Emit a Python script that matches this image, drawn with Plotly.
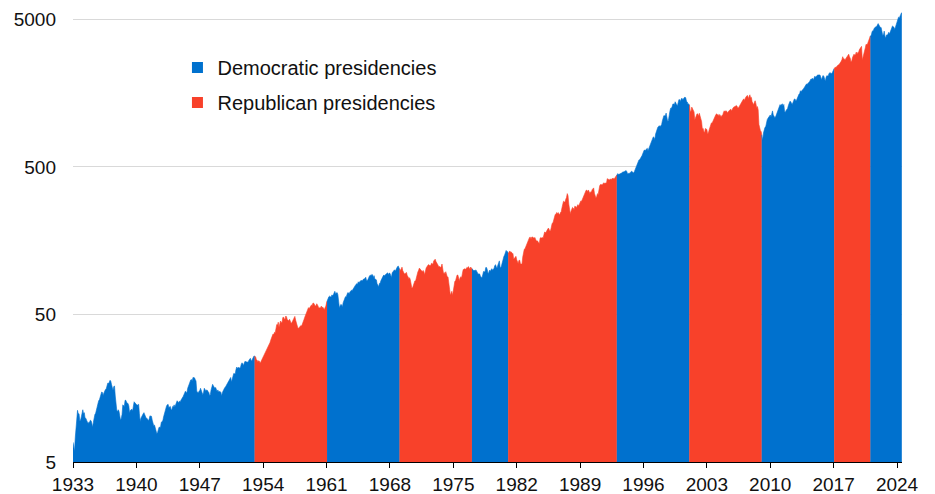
import numpy as np
import plotly.graph_objects as go

# Monthly S&P 500 level (approx. monthly average), Jan 1933 .. Jul 2024
start_year = 1933
sp500 = [
    # 1933
    6.8, 6.3, 5.9, 7.3, 9.0, 10.5, 11.2, 10.6, 10.6, 9.5, 9.6, 10.1,
    # 1934
    10.6, 11.3, 10.6, 10.8, 9.9, 9.9, 9.6, 9.1, 9.1, 9.3, 9.3, 9.6,
    # 1935
    9.5, 9.1, 8.6, 9.3, 10.0, 10.5, 10.7, 11.3, 11.6, 12.0, 13.0, 13.2,
    # 1936
    13.8, 14.5, 14.9, 14.8, 14.1, 14.7, 15.3, 15.5, 15.6, 16.4, 17.1, 17.1,
    # 1937
    17.3, 17.9, 17.7, 16.8, 16.1, 15.3, 16.2, 16.4, 14.0, 12.3, 11.2, 11.0,
    # 1938
    11.3, 11.0, 9.9, 9.6, 9.9, 10.5, 12.2, 12.0, 11.9, 13.1, 13.1, 12.7,
    # 1939
    12.6, 12.4, 12.0, 10.7, 11.2, 11.3, 11.4, 11.1, 12.4, 12.8, 12.6, 12.4,
    # 1940
    12.3, 12.1, 12.2, 12.3, 10.6, 9.4, 9.9, 10.2, 10.6, 10.6, 10.8, 10.4,
    # 1941
    10.4, 9.9, 9.9, 9.6, 9.5, 9.8, 10.3, 10.2, 10.2, 9.6, 9.2, 8.8,
    # 1942
    8.9, 8.6, 8.2, 7.8, 7.9, 8.3, 8.6, 8.6, 8.6, 9.3, 9.5, 9.5,
    # 1943
    10.1, 10.7, 11.3, 11.5, 12.0, 12.2, 12.3, 11.7, 11.9, 11.9, 11.3, 11.3,
    # 1944
    11.9, 11.8, 12.2, 11.8, 12.2, 12.6, 13.0, 12.8, 12.6, 12.9, 12.8, 13.1,
    # 1945
    13.5, 13.9, 13.9, 14.3, 14.8, 15.1, 14.8, 14.8, 15.8, 16.5, 17.0, 17.3,
    # 1946
    18.0, 18.1, 17.7, 18.7, 18.7, 18.6, 18.1, 17.7, 15.1, 14.8, 14.7, 15.1,
    # 1947
    15.2, 15.8, 15.2, 14.6, 14.3, 14.8, 15.8, 15.5, 15.1, 15.4, 15.3, 15.0,
    # 1948
    14.8, 14.1, 14.3, 15.4, 16.2, 16.8, 16.4, 15.8, 15.8, 16.0, 15.2, 15.0,
    # 1949
    15.4, 14.9, 15.0, 15.0, 14.8, 14.0, 14.8, 15.3, 15.5, 15.9, 16.1, 16.5,
    # 1950
    16.9, 17.2, 17.3, 17.9, 18.4, 18.7, 17.4, 18.4, 19.1, 19.9, 19.8, 19.8,
    # 1951
    21.2, 22.0, 21.6, 21.9, 21.9, 21.6, 21.9, 23.0, 23.5, 23.2, 22.5, 23.4,
    # 1952
    24.1, 23.9, 23.8, 23.7, 23.7, 24.4, 25.1, 25.2, 24.5, 24.2, 25.0, 26.0,
    # 1953
    26.2, 25.9, 25.8, 24.7, 24.5, 23.9, 24.3, 24.1, 23.3, 23.9, 24.5, 24.7,
    # 1954
    25.5, 26.0, 26.6, 27.6, 28.7, 28.9, 30.1, 30.3, 31.5, 32.2, 33.4, 35.0,
    # 1955
    35.6, 36.8, 36.5, 37.8, 37.6, 39.8, 42.7, 42.4, 44.3, 41.0, 44.0, 45.1,
    # 1956
    44.2, 44.0, 47.5, 48.1, 46.5, 46.3, 48.8, 48.1, 46.0, 45.4, 45.3, 46.4,
    # 1957
    45.4, 43.5, 44.0, 45.1, 46.8, 47.5, 48.5, 45.8, 43.9, 41.2, 40.4, 40.3,
    # 1958
    41.1, 41.3, 42.1, 41.7, 43.7, 44.8, 46.0, 47.7, 49.0, 51.0, 52.5, 53.5,
    # 1959
    55.6, 54.8, 56.2, 57.1, 58.0, 57.5, 59.7, 59.6, 57.0, 57.0, 57.2, 59.1,
    # 1960
    58.0, 55.8, 55.0, 55.7, 55.2, 57.0, 55.5, 56.1, 54.4, 53.7, 55.5, 56.8,
    # 1961
    59.7, 62.2, 64.1, 65.8, 66.5, 65.6, 65.4, 67.8, 67.3, 68.0, 71.1, 71.7,
    # 1962
    69.1, 70.2, 70.3, 68.1, 63.0, 55.6, 57.0, 58.5, 58.0, 56.2, 60.0, 62.6,
    # 1963
    65.1, 65.9, 65.7, 68.8, 70.1, 70.1, 69.1, 71.0, 72.9, 73.0, 72.6, 74.2,
    # 1964
    76.5, 77.4, 78.8, 79.9, 80.7, 80.2, 83.2, 82.0, 83.4, 84.9, 85.4, 84.0,
    # 1965
    86.1, 86.8, 86.8, 88.0, 89.3, 85.0, 84.9, 86.5, 89.4, 91.4, 92.2, 91.7,
    # 1966
    93.3, 92.7, 88.9, 91.6, 86.8, 86.1, 85.8, 80.7, 77.8, 77.1, 81.0, 81.3,
    # 1967
    84.5, 87.4, 89.4, 91.0, 92.6, 91.0, 93.0, 94.5, 95.8, 95.7, 92.7, 95.3,
    # 1968
    95.0, 90.8, 89.1, 95.7, 97.9, 100.5, 100.3, 98.1, 101.3, 103.8, 105.4, 106.5,
    # 1969
    102.0, 101.5, 99.3, 101.3, 104.6, 99.1, 94.7, 94.2, 94.5, 95.5, 96.2, 91.1,
    # 1970
    90.3, 87.2, 88.7, 86.0, 76.1, 75.6, 75.7, 77.9, 82.6, 84.4, 84.3, 90.1,
    # 1971
    93.5, 97.1, 99.6, 103.0, 101.6, 99.7, 99.0, 97.2, 99.4, 97.3, 92.8, 99.2,
    # 1972
    103.3, 105.2, 107.7, 108.8, 107.7, 108.0, 107.2, 111.0, 109.4, 109.6, 115.1, 117.5,
    # 1973
    118.4, 114.2, 112.4, 110.3, 107.2, 104.8, 105.8, 103.8, 105.6, 109.8, 102.0, 94.8,
    # 1974
    96.1, 93.5, 97.4, 92.5, 89.7, 89.8, 82.8, 76.0, 68.1, 69.4, 71.7, 67.1,
    # 1975
    72.6, 80.1, 83.8, 84.7, 90.1, 92.4, 92.5, 85.7, 84.7, 88.6, 90.1, 88.7,
    # 1976
    96.9, 100.6, 101.1, 101.9, 101.2, 101.8, 104.2, 103.3, 105.5, 101.9, 101.2, 104.7,
    # 1977
    103.8, 101.0, 100.6, 99.1, 98.8, 99.3, 100.2, 97.8, 96.2, 93.7, 94.3, 93.8,
    # 1978
    90.3, 89.0, 88.8, 92.7, 97.7, 97.2, 97.2, 103.9, 103.9, 100.6, 94.7, 96.1,
    # 1979
    99.7, 98.2, 100.1, 102.1, 99.7, 101.7, 102.7, 107.4, 108.6, 104.5, 103.7, 107.8,
    # 1980
    110.9, 115.3, 104.7, 103.0, 107.7, 114.6, 119.8, 123.5, 126.5, 130.2, 135.7, 133.5,
    # 1981
    133.0, 128.4, 133.2, 134.4, 131.7, 132.3, 129.1, 129.6, 118.3, 119.8, 122.9, 123.8,
    # 1982
    117.3, 114.5, 110.8, 116.3, 116.4, 109.7, 109.4, 109.7, 122.4, 132.7, 138.1, 139.4,
    # 1983
    144.3, 146.8, 151.9, 157.7, 164.1, 166.4, 167.0, 162.4, 167.2, 167.7, 165.2, 164.4,
    # 1984
    166.4, 157.3, 157.4, 157.6, 156.6, 153.1, 151.1, 164.4, 166.1, 164.8, 166.3, 164.5,
    # 1985
    171.6, 180.9, 179.4, 180.6, 184.9, 188.9, 192.5, 188.3, 184.1, 186.2, 197.5, 207.3,
    # 1986
    208.2, 219.4, 232.3, 238.0, 238.5, 245.3, 240.2, 245.0, 238.3, 237.4, 245.1, 248.6,
    # 1987
    264.5, 280.9, 292.5, 289.3, 289.1, 301.4, 310.1, 329.4, 318.7, 280.2, 245.0, 241.0,
    # 1988
    250.5, 258.1, 265.7, 262.6, 256.1, 270.7, 269.1, 263.7, 268.0, 277.4, 271.0, 276.5,
    # 1989
    285.4, 294.0, 292.7, 302.3, 313.9, 323.7, 331.9, 346.6, 347.3, 347.4, 340.2, 348.6,
    # 1990
    340.0, 330.5, 338.5, 338.2, 350.3, 360.4, 360.0, 330.8, 315.4, 307.1, 315.3, 328.8,
    # 1991
    325.5, 362.3, 372.3, 379.7, 378.0, 378.3, 380.2, 389.4, 387.2, 386.9, 385.9, 388.5,
    # 1992
    416.1, 412.6, 407.4, 407.4, 414.8, 408.3, 415.1, 417.9, 418.5, 412.5, 422.8, 435.6,
    # 1993
    435.2, 441.7, 450.2, 443.1, 445.3, 448.1, 447.3, 454.1, 459.2, 463.9, 462.9, 466.0,
    # 1994
    473.0, 471.6, 463.8, 447.2, 450.9, 454.8, 451.4, 464.2, 467.0, 463.8, 461.0, 455.2,
    # 1995
    465.3, 481.9, 493.2, 507.9, 523.8, 539.4, 557.4, 559.1, 578.8, 582.9, 595.5, 614.6,
    # 1996
    614.4, 649.5, 647.1, 647.2, 661.2, 668.5, 644.1, 662.7, 674.9, 701.5, 735.7, 743.3,
    # 1997
    766.2, 798.4, 792.2, 763.9, 833.1, 876.3, 925.3, 927.7, 937.0, 951.2, 938.9, 962.4,
    # 1998
    963.4, 1023.7, 1076.8, 1112.2, 1108.4, 1108.4, 1156.6, 1074.6, 1020.6, 1032.5, 1144.4, 1190.1,
    # 1999
    1248.8, 1246.6, 1281.7, 1334.8, 1332.1, 1322.6, 1381.0, 1327.5, 1318.2, 1300.0, 1391.0, 1428.7,
    # 2000
    1425.6, 1388.9, 1442.2, 1461.4, 1418.5, 1462.0, 1473.0, 1485.5, 1468.1, 1390.1, 1378.0, 1330.9,
    # 2001
    1335.6, 1305.8, 1185.9, 1189.8, 1270.4, 1238.7, 1204.5, 1178.5, 1044.6, 1076.6, 1129.7, 1144.9,
    # 2002
    1140.2, 1100.7, 1153.8, 1112.0, 1079.3, 1014.0, 903.6, 912.6, 867.8, 854.6, 909.9, 899.2,
    # 2003
    895.8, 837.6, 846.6, 890.0, 936.0, 988.0, 992.5, 989.5, 1019.4, 1038.7, 1049.9, 1080.6,
    # 2004
    1132.5, 1143.4, 1124.0, 1133.1, 1102.8, 1132.8, 1105.9, 1088.9, 1117.7, 1118.1, 1168.9, 1199.2,
    # 2005
    1181.4, 1199.6, 1194.9, 1164.4, 1178.3, 1202.3, 1222.2, 1224.3, 1225.9, 1192.0, 1237.4, 1262.1,
    # 2006
    1278.7, 1276.7, 1293.7, 1302.2, 1290.0, 1253.1, 1260.2, 1287.2, 1317.7, 1363.4, 1388.6, 1416.4,
    # 2007
    1424.2, 1444.8, 1407.0, 1463.7, 1511.1, 1514.5, 1520.7, 1454.6, 1497.1, 1539.7, 1463.4, 1479.2,
    # 2008
    1378.8, 1354.9, 1316.9, 1370.5, 1403.2, 1341.3, 1257.3, 1281.5, 1217.0, 968.8, 883.0, 877.6,
    # 2009
    865.6, 805.2, 757.1, 848.2, 902.4, 926.1, 935.8, 1009.7, 1044.6, 1067.7, 1088.1, 1110.4,
    # 2010
    1123.6, 1089.2, 1152.0, 1197.3, 1125.1, 1083.4, 1079.8, 1087.3, 1122.1, 1171.6, 1198.9, 1241.5,
    # 2011
    1282.6, 1321.1, 1304.5, 1331.5, 1338.3, 1287.3, 1325.2, 1185.3, 1173.9, 1207.2, 1226.4, 1243.3,
    # 2012
    1300.6, 1352.5, 1389.2, 1386.4, 1341.3, 1323.5, 1359.8, 1403.4, 1443.4, 1437.8, 1394.5, 1422.3,
    # 2013
    1480.4, 1512.3, 1550.8, 1570.7, 1639.8, 1618.8, 1668.7, 1670.1, 1687.2, 1720.0, 1783.5, 1807.8,
    # 2014
    1822.4, 1817.0, 1863.5, 1864.3, 1889.8, 1947.1, 1973.1, 1961.5, 1993.2, 1937.3, 2044.6, 2054.3,
    # 2015
    2028.2, 2082.2, 2080.0, 2094.9, 2111.9, 2099.3, 2094.1, 2039.9, 1944.4, 2024.8, 2080.6, 2054.1,
    # 2016
    1918.6, 1904.4, 2022.0, 2075.5, 2065.6, 2083.9, 2149.0, 2177.5, 2157.7, 2143.0, 2165.0, 2246.6,
    # 2017
    2275.1, 2329.9, 2366.8, 2359.3, 2395.3, 2434.0, 2454.1, 2456.2, 2492.8, 2557.0, 2593.6, 2664.3,
    # 2018
    2789.8, 2705.2, 2702.8, 2653.6, 2701.5, 2754.4, 2793.6, 2857.8, 2901.5, 2785.5, 2723.2, 2567.3,
    # 2019
    2607.4, 2754.9, 2804.0, 2903.8, 2854.7, 2890.2, 2996.1, 2897.5, 2982.2, 2977.7, 3104.9, 3176.7,
    # 2020
    3278.2, 3277.3, 2652.4, 2762.0, 2919.6, 3104.7, 3207.6, 3391.7, 3365.5, 3418.7, 3549.0, 3695.3,
    # 2021
    3793.7, 3883.4, 3910.5, 4141.2, 4167.9, 4238.5, 4363.7, 4454.2, 4445.5, 4460.7, 4667.4, 4674.8,
    # 2022
    4573.8, 4436.0, 4391.3, 4391.3, 4040.4, 3899.0, 3911.7, 4158.6, 3850.5, 3726.1, 3917.5, 3912.4,
    # 2023
    3960.7, 4079.7, 3968.6, 4121.5, 4146.2, 4345.4, 4508.1, 4457.4, 4409.1, 4269.4, 4460.1, 4685.1,
    # 2024
    4815.6, 5012.0, 5170.6, 5112.5, 5235.2, 5415.1, 5538.0,
]

# Presidential terms (start, end as decimal years) and party
term_bounds = [1933.0, 1953.055, 1961.055, 1969.055, 1977.055, 1981.055,
               1993.055, 2001.055, 2009.055, 2017.055, 2021.055, 2024.5]
term_party = ["D", "R", "D", "R", "D", "R", "D", "R", "D", "R", "D"]

party_names = {"D": "Democratic presidencies", "R": "Republican presidencies"}
party_colors = {"D": "#0071CE", "R": "#F8412A"}

x_ticks = list(range(1933, 2025, 7))
y_ticks = [5, 50, 500, 5000]

FONT = "Arial, 'Liberation Sans', sans-serif"
TXT = "#111111"

vals = np.array(sp500, dtype=float)
dates = start_year + np.arange(len(vals)) / 12.0
logv = np.log10(vals)

y_min_log = np.log10(5)
y_max_log = np.log10(5000) + 0.0766
base = 10 ** y_min_log

fig = go.Figure()

for i, party in enumerate(term_party):
    a, b = term_bounds[i], min(term_bounds[i + 1], dates[-1])
    mask = (dates > a) & (dates < b)
    xs = np.concatenate([[a], dates[mask], [b]])
    ys = 10 ** np.concatenate([[np.interp(a, dates, logv)], logv[mask],
                               [np.interp(b, dates, logv)]])
    px = np.concatenate([xs, [b, a]])
    py = np.concatenate([ys, [base, base]])
    fig.add_trace(go.Scatter(
        x=px, y=py, mode="lines", fill="toself",
        fillcolor=party_colors[party],
        line=dict(color=party_colors[party], width=0.6),
        showlegend=False, hoverinfo="skip",
    ))

for j, party in enumerate(["D", "R"]):
    fig.add_trace(go.Scatter(
        x=[None], y=[None], mode="markers",
        marker=dict(symbol="square", size=11, color=party_colors[party]),
        name=party_names[party], legendgroup=party,
    ))

fig.update_layout(
    width=935, height=494,
    margin=dict(l=73, r=33, t=8, b=32),
    paper_bgcolor="white", plot_bgcolor="white",
    font=dict(family=FONT, size=19, color=TXT),
    showlegend=True,
    legend=dict(
        x=0.126, y=0.912, xanchor="left", yanchor="top",
        font=dict(family=FONT, size=20, color=TXT),
        bgcolor="rgba(0,0,0,0)", tracegroupgap=6,
        itemclick=False,
    ),
    xaxis=dict(
        range=[1933, 2024.55], tickvals=x_ticks,
        ticktext=[str(t) for t in x_ticks],
        showgrid=False, zeroline=False, automargin=False,
        showline=True, linecolor="black", linewidth=1,
        ticks="outside", ticklen=5, tickcolor="black", tickwidth=1,
        tickfont=dict(size=19, family=FONT, color=TXT),
    ),
    yaxis=dict(
        type="log", range=[y_min_log, y_max_log], automargin=False,
        tickvals=y_ticks, ticktext=[str(t) for t in y_ticks],
        showgrid=True, gridcolor="#D9D9D9", gridwidth=1,
        zeroline=False, showline=False, ticks="",
        ticklabelstandoff=16,
        tickfont=dict(size=19, family=FONT, color=TXT),
    ),
)

fig.write_html("out.html")
